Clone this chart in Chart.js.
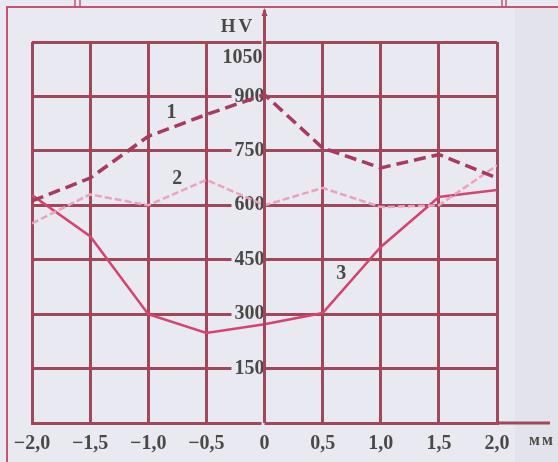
<!DOCTYPE html>
<html>
<head>
<meta charset="utf-8">
<script src="https://cdn.jsdelivr.net/npm/chart.js@4"></script>
<style>
  html, body { margin: 0; padding: 0; background: #e9e9f1; }
  #wrap { width: 558px; height: 462px; }
</style>
</head>
<body>
<div id="wrap"><canvas id="hvChart" width="558" height="462"></canvas></div>
<script>
// distance from the centre, mm
const xValues = [-2, -1.5, -1, -0.5, 0, 0.5, 1, 1.5, 2];
const xTickLabels = ['\u22122,0', '\u22121,5', '\u22121,0', '\u22120,5', '0', '0,5', '1,0', '1,5', '2,0'];
// hardness HV
const curve1 = [612, 675, 790, 850, 905, 758, 703, 740, 675];
const curve2 = [550, 630, 600, 670, 600, 648, 595, 600, 710];
const curve3 = [628, 515, 300, 248, 272, 303, 485, 623, 642];
const yTickLabels = ['', '150', '300', '450', '600', '750', '900', ''];
const yTopLabel = '1050';
const yTitle = 'HV';
const xUnit = '\u043c\u043c';
const curveNames = ['1', '2', '3'];

const gridColor = '#a04859';
const textColor = '#4b4946';
const bg = '#e9e9f1';

function toPoints(ys) {
  return ys.map((y, i) => ({ x: xValues[i], y: y }));
}

const extras = {
  id: 'extras',
  beforeDraw(chart) {
    const ctx = chart.ctx;
    ctx.save();
    ctx.fillStyle = bg;
    ctx.fillRect(0, 0, chart.width, chart.height);
    ctx.fillStyle = '#e3e3eb';
    ctx.fillRect(515, 8, chart.width - 515, chart.height);
    ctx.restore();
  },
  afterDraw(chart) {
    const ctx = chart.ctx;
    const xs = chart.scales.x;
    const ys = chart.scales.y;
    const area = chart.chartArea;
    const x0 = xs.getPixelForValue(0);
    ctx.save();

    // outer frame
    ctx.strokeStyle = '#c25572';
    ctx.lineWidth = 2;
    ctx.beginPath();
    ctx.moveTo(chart.width, 7);
    ctx.lineTo(7, 7);
    ctx.lineTo(7, chart.height);
    ctx.stroke();
    ctx.lineWidth = 1.5;
    [75, 80, 502, 506].forEach(px => {
      ctx.beginPath();
      ctx.moveTo(px, 0);
      ctx.lineTo(px, 7);
      ctx.stroke();
    });

    // axes drawn over the tick labels, with their extensions
    ctx.strokeStyle = gridColor;
    ctx.lineWidth = 3;
    ctx.beginPath();
    ctx.moveTo(x0, 10);
    ctx.lineTo(x0, area.bottom);
    ctx.stroke();
    ctx.beginPath();
    ctx.moveTo(area.right, area.bottom);
    ctx.lineTo(550, area.bottom);
    ctx.stroke();
    ctx.fillStyle = gridColor;
    ctx.beginPath();
    ctx.moveTo(x0, 8);
    ctx.lineTo(x0 - 3, 16);
    ctx.lineTo(x0 + 3, 16);
    ctx.closePath();
    ctx.fill();

    // texts
    ctx.fillStyle = textColor;
    ctx.font = 'bold 20px "Liberation Serif", serif';
    ctx.textBaseline = 'middle';
    ctx.textAlign = 'right';
    ctx.fillText(yTopLabel, x0 - 2, 58);
    ctx.textAlign = 'center';
    ctx.font = 'bold 19px "Liberation Serif", serif';
    ctx.letterSpacing = '3px';
    ctx.fillText(yTitle, 238, 27);
    ctx.font = 'bold 16px "Liberation Serif", serif';
    ctx.letterSpacing = '2px';
    ctx.fillText(xUnit, 542, 441);
    ctx.letterSpacing = '0px';

    ctx.font = 'bold 20px "Liberation Serif", serif';
    const spots = [[-0.8, 855], [-0.75, 672], [0.66, 410]];
    spots.forEach((p, i) => {
      ctx.fillText(curveNames[i], xs.getPixelForValue(p[0]), ys.getPixelForValue(p[1]));
    });
    ctx.restore();
  }
};

new Chart(document.getElementById('hvChart').getContext('2d'), {
  type: 'line',
  data: {
    datasets: [
      {
        label: curveNames[0],
        data: toPoints(curve1),
        borderColor: '#a93a5d',
        borderWidth: 3.5,
        borderDash: [12, 6],
        pointRadius: 0,
        tension: 0
      },
      {
        label: curveNames[1],
        data: toPoints(curve2),
        borderColor: '#eaa3bb',
        borderWidth: 2.5,
        borderDash: [7, 3],
        pointRadius: 0,
        tension: 0
      },
      {
        label: curveNames[2],
        data: toPoints(curve3),
        borderColor: '#d4446e',
        borderWidth: 2.5,
        pointRadius: 0,
        tension: 0
      }
    ]
  },
  options: {
    responsive: false,
    animation: false,
    layout: { padding: { left: 32, right: 61, top: 42, bottom: 0 } },
    plugins: {
      legend: { display: false },
      tooltip: { enabled: false }
    },
    scales: {
      x: {
        type: 'linear',
        min: -2,
        max: 2,
        afterFit: (scale) => { scale.height = 39; },
        grid: { color: gridColor, lineWidth: 3, drawTicks: false },
        border: { color: gridColor, width: 3 },
        ticks: {
          stepSize: 0.5,
          padding: 9,
          color: textColor,
          font: { family: 'Liberation Serif', weight: 'bold', size: 20 },
          callback: (value, index) => xTickLabels[index]
        }
      },
      y: {
        type: 'linear',
        position: { x: 0 },
        min: 0,
        max: 1050,
        grid: { color: gridColor, lineWidth: 3, drawTicks: false },
        border: { color: gridColor, width: 3 },
        ticks: {
          stepSize: 150,
          color: textColor,
          font: { family: 'Liberation Serif', weight: 'bold', size: 20 },
          showLabelBackdrop: true,
          backdropColor: bg,
          backdropPadding: { top: 0, bottom: 0, left: 3, right: 0 },
          callback: (value, index) => yTickLabels[index]
        }
      }
    }
  },
  plugins: [extras]
});
</script>
</body>
</html>
